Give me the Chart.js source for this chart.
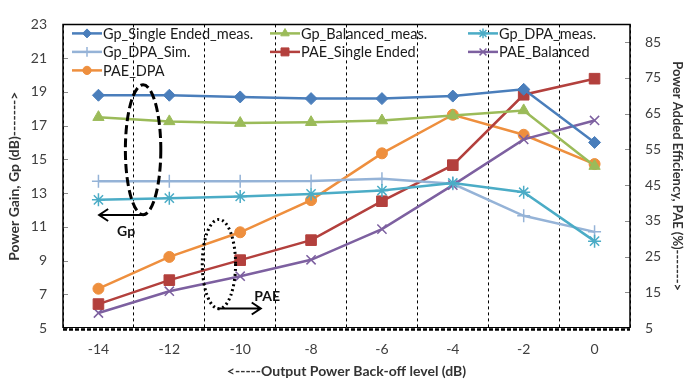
<!DOCTYPE html>
<html>
<head>
<meta charset="utf-8">
<script src="https://cdn.jsdelivr.net/npm/chart.js@4.4.1/dist/chart.umd.min.js"></script>
<style>
  html, body { margin: 0; padding: 0; background: #ffffff; }
  canvas { display: block; }
</style>
</head>
<body>
<canvas id="chart" width="689" height="383"></canvas>
<script>
// Output power back-off levels (dB)
const backoff = ['-14', '-12', '-10', '-8', '-6', '-4', '-2', '0'];

// Power gain, Gp (dB) — left axis
const gpSingleEnded = [18.8, 18.8, 18.7, 18.6, 18.6, 18.75, 19.15, 16.0];
const gpBalanced    = [17.5, 17.25, 17.15, 17.2, 17.3, 17.6, 17.9, 14.6];
const gpDpaMeas     = [12.6, 12.7, 12.8, 12.95, 13.15, 13.6, 13.05, 10.15];
const gpDpaSim      = [13.7, 13.7, 13.7, 13.72, 13.85, 13.55, 11.65, 10.7];

// Power added efficiency, PAE (%) — right axis
const paeSingleEnded = [11.7, 18.4, 24.0, 29.6, 40.5, 50.6, 70.3, 74.8];
const paeBalanced    = [9.2, 15.3, 19.5, 24.1, 32.7, 45.0, 57.8, 63.1];
const paeDpa         = [16.0, 24.9, 31.8, 40.8, 53.9, 64.7, 59.1, 50.9];

// Axis tick values
const gainTicks = [5, 7, 9, 11, 13, 15, 17, 19, 21, 23];
const paeTicks  = [5, 15, 25, 35, 45, 55, 65, 75, 85];

const FONT = 'Lato, "Liberation Sans", sans-serif';

function series(label, data, color, style, radius, axis, fill) {
  return {
    label, data, yAxisID: axis,
    borderColor: color,
    backgroundColor: fill === false ? 'rgba(0,0,0,0)' : color,
    borderWidth: 2.5,
    pointStyle: style,
    pointRadius: radius,
    pointBorderColor: color,
    pointBackgroundColor: fill === false ? 'rgba(0,0,0,0)' : color,
    pointBorderWidth: fill === false ? 1.5 : 1,
    tension: 0
  };
}

// Chart frame: outline, dashed base line and inner tick marks
const frame = {
  id: 'frame',
  beforeDatasetsDraw(chart) {
    const { ctx, chartArea: a, scales } = chart;
    ctx.save();
    ctx.strokeStyle = '#8c8c8c';
    ctx.lineWidth = 1;
    scales.y.ticks.forEach(t => {
      const py = Math.round(scales.y.getPixelForValue(t.value)) + 0.5;
      ctx.beginPath(); ctx.moveTo(a.left, py); ctx.lineTo(a.left + 5, py); ctx.stroke();
    });
    scales.y1.ticks.forEach(t => {
      const py = Math.round(scales.y1.getPixelForValue(t.value)) + 0.5;
      ctx.beginPath(); ctx.moveTo(a.right - 5, py); ctx.lineTo(a.right, py); ctx.stroke();
    });
    ctx.strokeStyle = '#000';
    ctx.lineWidth = 1.5;
    ctx.beginPath();
    ctx.moveTo(a.left, a.bottom);
    ctx.lineTo(a.left, a.top);
    ctx.lineTo(a.right, a.top);
    ctx.lineTo(a.right, a.bottom);
    ctx.stroke();
    ctx.lineWidth = 1;
    ctx.beginPath(); ctx.moveTo(a.left, a.bottom - 0.5); ctx.lineTo(a.right, a.bottom - 0.5); ctx.stroke();
    ctx.lineWidth = 2.5;
    ctx.setLineDash([4, 2]);
    ctx.beginPath(); ctx.moveTo(a.left, a.bottom + 1.5); ctx.lineTo(a.right, a.bottom + 1.5); ctx.stroke();
    ctx.restore();
  }
};

// Three-column legend drawn inside the plot
const inlineLegend = {
  id: 'inlineLegend',
  afterDraw(chart) {
    const { ctx, chartArea: a } = chart;
    ctx.save();
    ctx.font = '14.5px ' + FONT;
    ctx.textBaseline = 'middle';
    ctx.textAlign = 'left';
    chart.data.datasets.forEach((ds, i) => {
      const col = i % 3, row = Math.floor(i / 3);
      const x = a.left + 9 + col * 198;
      const y = a.top + 9 + row * 18.5;
      ctx.setLineDash([]);
      ctx.strokeStyle = ds.borderColor;
      ctx.lineWidth = 2.5;
      ctx.beginPath(); ctx.moveTo(x, y); ctx.lineTo(x + 30, y); ctx.stroke();
      ctx.fillStyle = ds.pointBackgroundColor;
      ctx.strokeStyle = ds.pointBorderColor;
      ctx.lineWidth = ds.pointBorderWidth;
      if (Chart.helpers && Chart.helpers.drawPoint) {
        Chart.helpers.drawPoint(ctx, {
          pointStyle: ds.pointStyle, rotation: 0,
          radius: ds.pointRadius * 0.75, borderWidth: ds.pointBorderWidth
        }, x + 15, y);
      }
      ctx.fillStyle = '#1a1a1a';
      ctx.fillText(ds.label, x + 31, y + 0.5);
    });
    ctx.restore();
  }
};

// Callout ellipses grouping the gain and efficiency curves, with axis arrows
const callouts = [
  { axis: 'y',  cx: 0.63, cy: 15.57, rx: 0.25,  ry: 3.85, dash: [9, 4],
    arrow: { y: 11.7, from: 0.62, to: 0.01 }, label: { text: 'Gp',  x: 0.39, y: 10.7 } },
  { axis: 'y1', cx: 1.70, cy: 22.9,  rx: 0.235, ry: 12.5, dash: [2, 3],
    arrow: { y: 10.45, from: 1.68, to: 2.29 }, label: { text: 'PAE', x: 2.38, y: 13.9 } }
];

const calloutPlugin = {
  id: 'callouts',
  afterDatasetsDraw(chart) {
    const { ctx, scales } = chart;
    const xs = scales.x;
    ctx.save();
    callouts.forEach(c => {
      const ys = scales[c.axis];
      const cx = xs.getPixelForValue(c.cx);
      const cy = ys.getPixelForValue(c.cy);
      const rx = Math.abs(xs.getPixelForValue(c.cx + c.rx) - cx);
      const ry = Math.abs(ys.getPixelForValue(c.cy + c.ry) - cy);
      ctx.strokeStyle = '#000';
      ctx.lineWidth = 3;
      ctx.setLineDash(c.dash);
      ctx.beginPath();
      ctx.ellipse(cx, cy, rx, ry, 0, 0, Math.PI * 2);
      ctx.stroke();

      const ay = ys.getPixelForValue(c.arrow.y);
      const x0 = xs.getPixelForValue(c.arrow.from);
      const x1 = xs.getPixelForValue(c.arrow.to);
      const dir = Math.sign(x1 - x0);
      ctx.setLineDash([]);
      ctx.lineWidth = 2;
      ctx.beginPath();
      ctx.moveTo(x0, ay); ctx.lineTo(x1, ay);
      ctx.moveTo(x1 - dir * 9, ay - 6); ctx.lineTo(x1, ay); ctx.lineTo(x1 - dir * 9, ay + 6);
      ctx.stroke();

      ctx.fillStyle = '#111';
      ctx.font = 'bold 14px ' + FONT;
      ctx.textAlign = 'center';
      ctx.textBaseline = 'middle';
      ctx.fillText(c.label.text, xs.getPixelForValue(c.label.x), ys.getPixelForValue(c.label.y));
    });
    ctx.restore();
  }
};

const tickFont = { family: FONT, size: 14 };
const titleFont = { family: FONT, size: 14, weight: 'bold' };
const rightTitleFont = { family: FONT, size: 13, weight: 'bold' };

new Chart(document.getElementById('chart'), {
  type: 'line',
  data: {
    labels: backoff,
    datasets: [
      series('Gp_Single Ended_meas.', gpSingleEnded, '#4a7ebb', 'rectRot', 6, 'y'),
      series('Gp_Balanced_meas.', gpBalanced, '#9bbb59', 'triangle', 6.5, 'y'),
      series('Gp_DPA_meas.', gpDpaMeas, '#4bacc6', 'star', 6.5, 'y', false),
      series('Gp_DPA_Sim.', gpDpaSim, '#95b3d7', 'cross', 6.5, 'y', false),
      series('PAE_Single Ended', paeSingleEnded, '#b3403d', 'rect', 7.5, 'y1'),
      series('PAE_Balanced', paeBalanced, '#7d60a0', 'crossRot', 6.5, 'y1', false),
      series('PAE_DPA', paeDpa, '#ee8f3e', 'circle', 5.5, 'y1')
    ]
  },
  options: {
    responsive: false,
    animation: false,
    devicePixelRatio: 1,
    layout: { padding: { top: 11, left: 0, right: 0, bottom: 0 } },
    plugins: { legend: { display: false }, tooltip: { enabled: false } },
    scales: {
      x: {
        type: 'category',
        offset: true,
        afterFit: s => { s.height = 55; },
        grid: { display: true, offset: true, color: '#000', lineWidth: 1, drawTicks: false },
        border: { display: false, dash: [3, 3] },
        ticks: { font: tickFont, color: '#404040', padding: 13, maxRotation: 0 },
        title: { display: true, text: '<-----Output Power Back-off level (dB)', font: titleFont,
                 color: '#333', padding: { top: 0, bottom: 3 } }
      },
      y: {
        position: 'left',
        min: 5, max: 23,
        afterFit: s => { s.width = 63; },
        afterBuildTicks: s => { s.ticks = gainTicks.map(v => ({ value: v })); },
        grid: { display: false, drawTicks: false },
        border: { display: false },
        ticks: { font: tickFont, color: '#404040', padding: 16 },
        title: { display: true, text: 'Power Gain, Gp (dB)------->', font: titleFont,
                 color: '#333', padding: { top: 6, bottom: 0 } }
      },
      y1: {
        position: 'right',
        min: 5, max: 90,
        afterFit: s => { s.width = 59; },
        afterBuildTicks: s => { s.ticks = paeTicks.map(v => ({ value: v })); },
        grid: { display: false, drawTicks: false },
        border: { display: false },
        ticks: { font: tickFont, color: '#404040', padding: 15 },
        title: { display: true, text: 'Power Added Efficiency, PAE (%)------->', font: rightTitleFont,
                 color: '#333', padding: { top: 4, bottom: 0 } }
      }
    }
  },
  plugins: [frame, calloutPlugin, inlineLegend]
});
</script>
</body>
</html>
